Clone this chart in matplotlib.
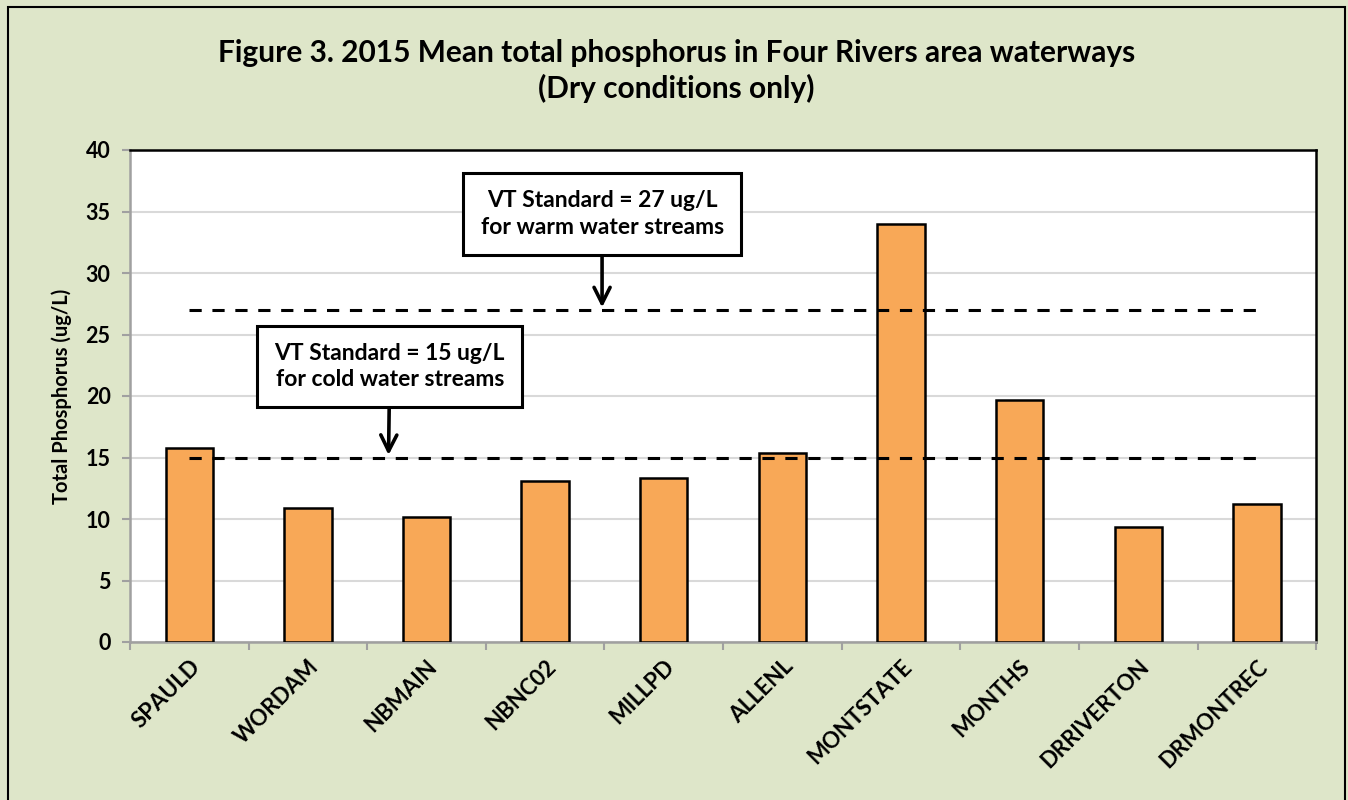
import matplotlib.pyplot as plt
from matplotlib.patches import Rectangle

sites = ["SPAULD", "WORDAM", "NBMAIN", "NBNC02", "MILLPD", "ALLENL",
         "MONTSTATE", "MONTHS", "DRRIVERTON", "DRMONTREC"]
phosphorus = [15.8, 10.9, 10.2, 13.1, 13.3, 15.4, 34.0, 19.7, 9.35, 11.25]
warm_standard = 27
cold_standard = 15

bg = "#dee6c9"
plt.rcParams["font.family"] = ["Lato", "DejaVu Sans"]
plt.rcParams["font.weight"] = "bold"

fig = plt.figure(figsize=(13.48, 8), dpi=100, facecolor=bg)
fig.patches.append(Rectangle((0.006, -0.1), 0.992, 1.091, transform=fig.transFigure,
                             fill=False, edgecolor="black", linewidth=1.5))
ax = fig.add_axes([0.0964, 0.1975, 0.880, 0.615])

x = list(range(len(sites)))
ax.bar(x, phosphorus, width=0.4, color="#f8a857", edgecolor="black",
       linewidth=1.8, zorder=3)
ax.plot([x[0], x[-1]], [warm_standard] * 2, color="black", lw=2.2,
        dashes=(4, 3.5), zorder=4)
ax.plot([x[0], x[-1]], [cold_standard] * 2, color="black", lw=2.2,
        dashes=(4, 3.5), zorder=4)

ax.set_xlim(-0.5, len(sites) - 0.5)
ax.set_ylim(0, 40)
ax.set_yticks(range(0, 41, 5))
ax.set_xticks(x)
ax.set_xticklabels(sites, rotation=45, ha="right", rotation_mode="anchor",
                   fontsize=16, fontweight="bold")
ax.tick_params(axis="x", length=0, pad=10)
ax.set_xticks([i - 0.5 for i in range(len(sites) + 1)], minor=True)
ax.tick_params(axis="x", which="minor", length=6, color="#a0a0a0", width=1.5)
ax.tick_params(axis="y", length=6, color="#a0a0a0", width=1.5, labelsize=15.5, pad=8)
for lab in ax.get_yticklabels():
    lab.set_fontweight("bold")
ax.grid(axis="y", color="#d9d9d9", lw=1.5, zorder=0)
ax.set_axisbelow(True)
for s in ["left", "bottom"]:
    ax.spines[s].set_color("#a0a0a0")
    ax.spines[s].set_linewidth(1.8)
for s in ["top", "right"]:
    ax.spines[s].set_color("black")
    ax.spines[s].set_linewidth(1.8)

ax.set_ylabel("Total Phosphorus (ug/L)", fontsize=14.5, fontweight="bold", labelpad=10)

fig.text(0.502, 0.911, "Figure 3. 2015 Mean total phosphorus in Four Rivers area waterways\n(Dry conditions only)",
         ha="center", va="center", fontsize=21.5, fontweight="bold", linespacing=1.3)

box = dict(boxstyle="square,pad=0.75", facecolor="white", edgecolor="black", linewidth=2.2)
arrow = dict(arrowstyle="->,head_length=0.7,head_width=0.35", color="black", lw=2.6,
             shrinkA=0, shrinkB=0)
ax.annotate("VT Standard = 27 ug/L\nfor warm water streams", xy=(3.48, 27.2),
            xytext=(3.48, 34.8), ha="center", va="center", fontsize=16.5,
            fontweight="bold", bbox=box, arrowprops=arrow, zorder=6, linespacing=1.3)
ax.annotate("VT Standard = 15 ug/L\nfor cold water streams", xy=(1.68, 15.2),
            xytext=(1.69, 22.4), ha="center", va="center", fontsize=16.5,
            fontweight="bold", bbox=box, arrowprops=arrow, zorder=6, linespacing=1.3)

fig.savefig("out.png", dpi=100, facecolor=bg)
